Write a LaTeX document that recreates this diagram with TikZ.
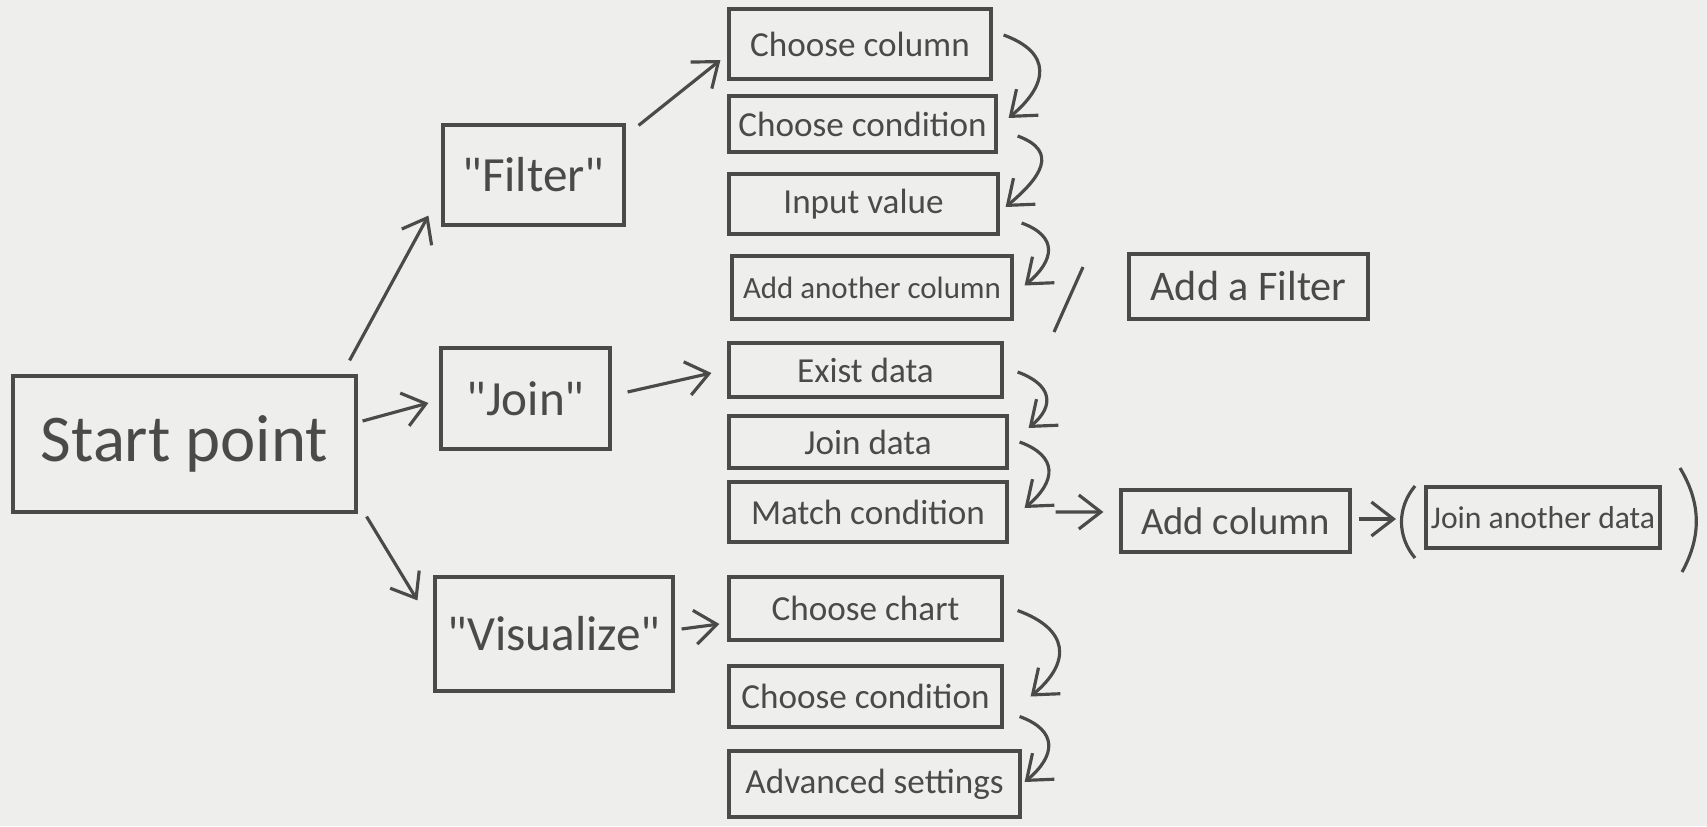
\documentclass[tikz,border=0pt]{standalone}
\usepackage{fontspec}
\setmainfont{Carlito}
\usetikzlibrary{arrows.meta,calc}
\definecolor{lapiz}{HTML}{4A4A48}
\definecolor{papel}{HTML}{EEEEEC}

\begin{document}
\begin{tikzpicture}[
    colbox/.style={draw=lapiz, line width=0.9pt, text=lapiz, inner sep=1pt, font=\fontsize{10}{12}\selectfont},
    opbox/.style={colbox, font=\fontsize{14}{16}\selectfont},
    flow/.style={-{Straight Barb[length=2.2mm,width=3.4mm]}, draw=lapiz, line width=0.9pt},
    bendflow/.style={flow, out=-20, in=40, looseness=1.6}]
  \fill[papel] (0,0) rectangle (17.07,-8.26);
  \useasboundingbox (0,0) rectangle (17.07,-8.26);

  % start and the three operations
  \node[colbox, minimum width=3.43cm, minimum height=1.36cm, font=\fontsize{19}{22}\selectfont] (start) at (1.845,-4.44) {Start point};
  \node[opbox, minimum width=1.81cm, minimum height=1.00cm] (filter) at (5.335,-1.75) {\textquotedbl Filter\textquotedbl};
  \node[opbox, minimum width=1.69cm, minimum height=1.01cm] (join) at (5.255,-3.985) {\textquotedbl Join\textquotedbl};
  \node[opbox, minimum width=2.38cm, minimum height=1.14cm] (vis) at (5.54,-6.34) {\textquotedbl Visualize\textquotedbl};

  % filter steps
  \node[colbox, minimum width=2.62cm, minimum height=0.70cm] (ccol) at (8.60,-0.44) {Choose column};
  \node[colbox, minimum width=2.67cm, minimum height=0.56cm] (ccond) at (8.625,-1.24) {Choose condition};
  \node[colbox, minimum width=2.69cm, minimum height=0.60cm] (inval) at (8.635,-2.04) {Input value};
  \node[colbox, minimum width=2.80cm, minimum height=0.63cm, font=\fontsize{8.8}{10}\selectfont] (addcol) at (8.72,-2.875) {Add another column};
  \node[colbox, minimum width=2.39cm, minimum height=0.65cm, font=\fontsize{12}{14}\selectfont] (addfil) at (12.485,-2.865) {Add a Filter};

  % join steps
  \node[colbox, minimum width=2.73cm, minimum height=0.54cm] (exist) at (8.655,-3.70) {Exist data};
  \node[colbox, minimum width=2.78cm, minimum height=0.52cm] (joindata) at (8.68,-4.42) {Join data};
  \node[colbox, minimum width=2.78cm, minimum height=0.60cm] (match) at (8.68,-5.12) {Match condition};
  \node[colbox, minimum width=2.29cm, minimum height=0.62cm, font=\fontsize{11}{13}\selectfont] (addc) at (12.355,-5.21) {Add column};
  \node[colbox, minimum width=2.34cm, minimum height=0.61cm, font=\fontsize{9}{11}\selectfont] (joinother) at (15.43,-5.175) {Join another data};

  % visualize steps
  \node[colbox, minimum width=2.73cm, minimum height=0.63cm] (chart) at (8.655,-6.085) {Choose chart};
  \node[colbox, minimum width=2.73cm, minimum height=0.61cm] (vcond) at (8.655,-6.965) {Choose condition};
  \node[colbox, minimum width=2.91cm, minimum height=0.66cm] (adv) at (8.745,-7.84) {Advanced settings};

  % brackets round the optional step
  \coordinate (lptop) at (14.15,-4.86);
  \coordinate (lpbot) at (14.15,-5.58);
  \coordinate (lparen) at (14.01,-5.20);
  \coordinate (rptop) at (16.80,-4.68);
  \coordinate (rpbot) at (16.82,-5.72);
  \draw[draw=lapiz, line width=0.9pt] (lptop) to[bend right=40] (lpbot);
  \draw[draw=lapiz, line width=0.9pt] (rptop) to[bend left=30] (rpbot);
  \draw[draw=lapiz, line width=0.9pt] (10.83,-2.67) -- (10.54,-3.32);

  % arrows
  \draw[flow] ([shift={(-0.08,0.14)}]start.north east) -- ([shift={(-0.13,0.11)}]filter.south west);
  \draw[flow] ([shift={(0.05,0.23)}]start.east) -- ([shift={(-0.11,-0.045)}]join.west);
  \draw[flow] ([shift={(0.09,-0.03)}]start.south east) -- ([shift={(-0.16,-0.25)}]vis.north west);
  \draw[flow] ([shift={(0.13,-0.02)}]filter.north east) -- ([shift={(-0.07,-0.16)}]ccol.west);
  \draw[flow] ([shift={(0.16,0.065)}]join.east) -- ([shift={(-0.16,-0.03)}]exist.west);
  \draw[flow] ([shift={(0.07,0.05)}]vis.east) -- ([shift={(-0.08,-0.155)}]chart.west);
  \draw[flow] ([shift={(0.47,0)}]match.east) -- ([shift={(-0.16,0.09)}]addc.west);
  \draw[flow] ([shift={(0.07,0.02)}]addc.east) -- ([shift={(-0.05,0.01)}]lparen);

  \foreach \a/\b/\s/\e in {ccol/ccond/{0.11,0.09}/{0.11,0.06},
                           ccond/inval/{0.2,-0.12}/{0.06,-0.03},
                           inval/addcol/{0.22,-0.19}/{0.11,0.02},
                           exist/joindata/{0.14,-0.02}/{0.2,0.14},
                           joindata/match/{0.11,0}/{0.16,0.04},
                           chart/vcond/{0.14,-0.02}/{0.27,0},
                           vcond/adv/{0.16,-0.2}/{0.03,0.02}}
    \draw[bendflow] ([shift={(\s)}]\a.east) to ([shift={(\e)}]\b.east);
\end{tikzpicture}
\end{document}
